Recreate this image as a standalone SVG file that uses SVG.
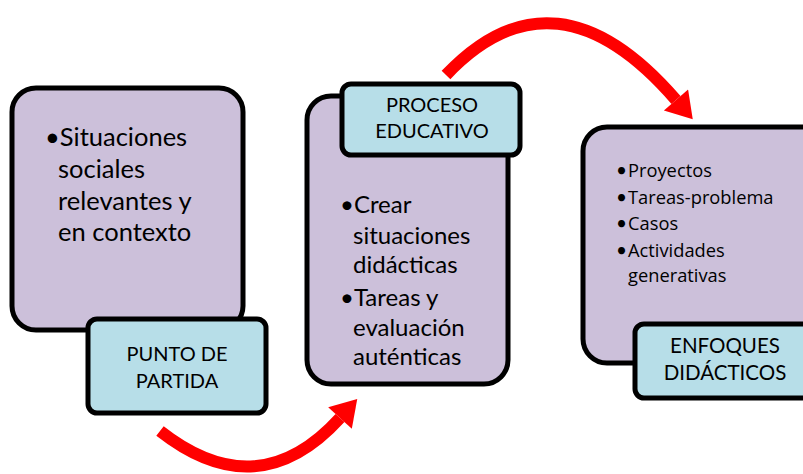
<svg xmlns="http://www.w3.org/2000/svg" width="803" height="474" viewBox="0 0 803 474">
<defs>
<style>
.main{fill:#CCC0DA;stroke:#000;stroke-width:5}
.lab{fill:#B7DEE8;stroke:#000;stroke-width:5}
.t{font-family:Lato,"Liberation Sans",sans-serif;fill:#000}
.o{font-family:"Open Sans","Liberation Sans",sans-serif;fill:#000}
.c{text-anchor:middle}
.arc{fill:none;stroke:#FF0000;stroke-width:12;marker-end:url(#ah)}
</style>
<marker id="ah" markerUnits="userSpaceOnUse" markerWidth="30" markerHeight="32" refX="0" refY="15" orient="auto" viewBox="0 0 24 30">
<path d="M0,0 L24,15 L0,30 Z" fill="#FF0000"/>
</marker>
</defs>
<g id="connectors">
<path class="arc" d="M160,431 Q258,508 340,418"/>
<path class="arc" d="M446,75 Q555,-40 676,100"/>
</g>
<g id="punto">
<rect class="main" x="12" y="88" width="231" height="242" rx="24"/>
<text class="t" font-size="25.5"><tspan x="45" y="146">•Situaciones</tspan><tspan x="58" y="178">sociales</tspan><tspan x="58" y="210">relevantes y</tspan><tspan x="58" y="241">en contexto</tspan></text>
<rect class="lab" x="88" y="319" width="178" height="94" rx="9"/>
<text class="t c" font-size="20"><tspan x="177" y="361">PUNTO DE</tspan><tspan x="177" y="388">PARTIDA</tspan></text>
</g>
<g id="proceso">
<rect class="main" x="307" y="96" width="201" height="288" rx="24"/>
<text class="t" font-size="24"><tspan x="340" y="213">•Crear</tspan><tspan x="353" y="244">situaciones</tspan><tspan x="353" y="273">didácticas</tspan><tspan x="340" y="306">•Tareas y</tspan><tspan x="353" y="336">evaluación</tspan><tspan x="353" y="365">auténticas</tspan></text>
<rect class="lab" x="342" y="84" width="178" height="71" rx="9"/>
<text class="t c" font-size="20"><tspan x="432" y="112">PROCESO</tspan><tspan x="432" y="138">EDUCATIVO</tspan></text>
</g>
<g id="enfoques">
<rect class="main" x="583" y="127" width="260" height="236" rx="24"/>
<text class="t" font-size="19"><tspan x="616" y="177">•</tspan><tspan x="616" y="204">•</tspan><tspan x="616" y="230">•</tspan><tspan x="616" y="257">•</tspan></text>
<text class="o" font-size="18.3"><tspan x="628" y="177">Proyectos</tspan><tspan x="628" y="204">Tareas-problema</tspan><tspan x="628" y="230">Casos</tspan><tspan x="628" y="257">Actividades</tspan><tspan x="628" y="282">generativas</tspan></text>
<rect class="lab" x="635" y="324" width="200" height="74" rx="9"/>
<text class="t c" font-size="20.5"><tspan x="725" y="353">ENFOQUES</tspan><tspan x="725" y="380">DIDÁCTICOS</tspan></text>
</g>
</svg>
